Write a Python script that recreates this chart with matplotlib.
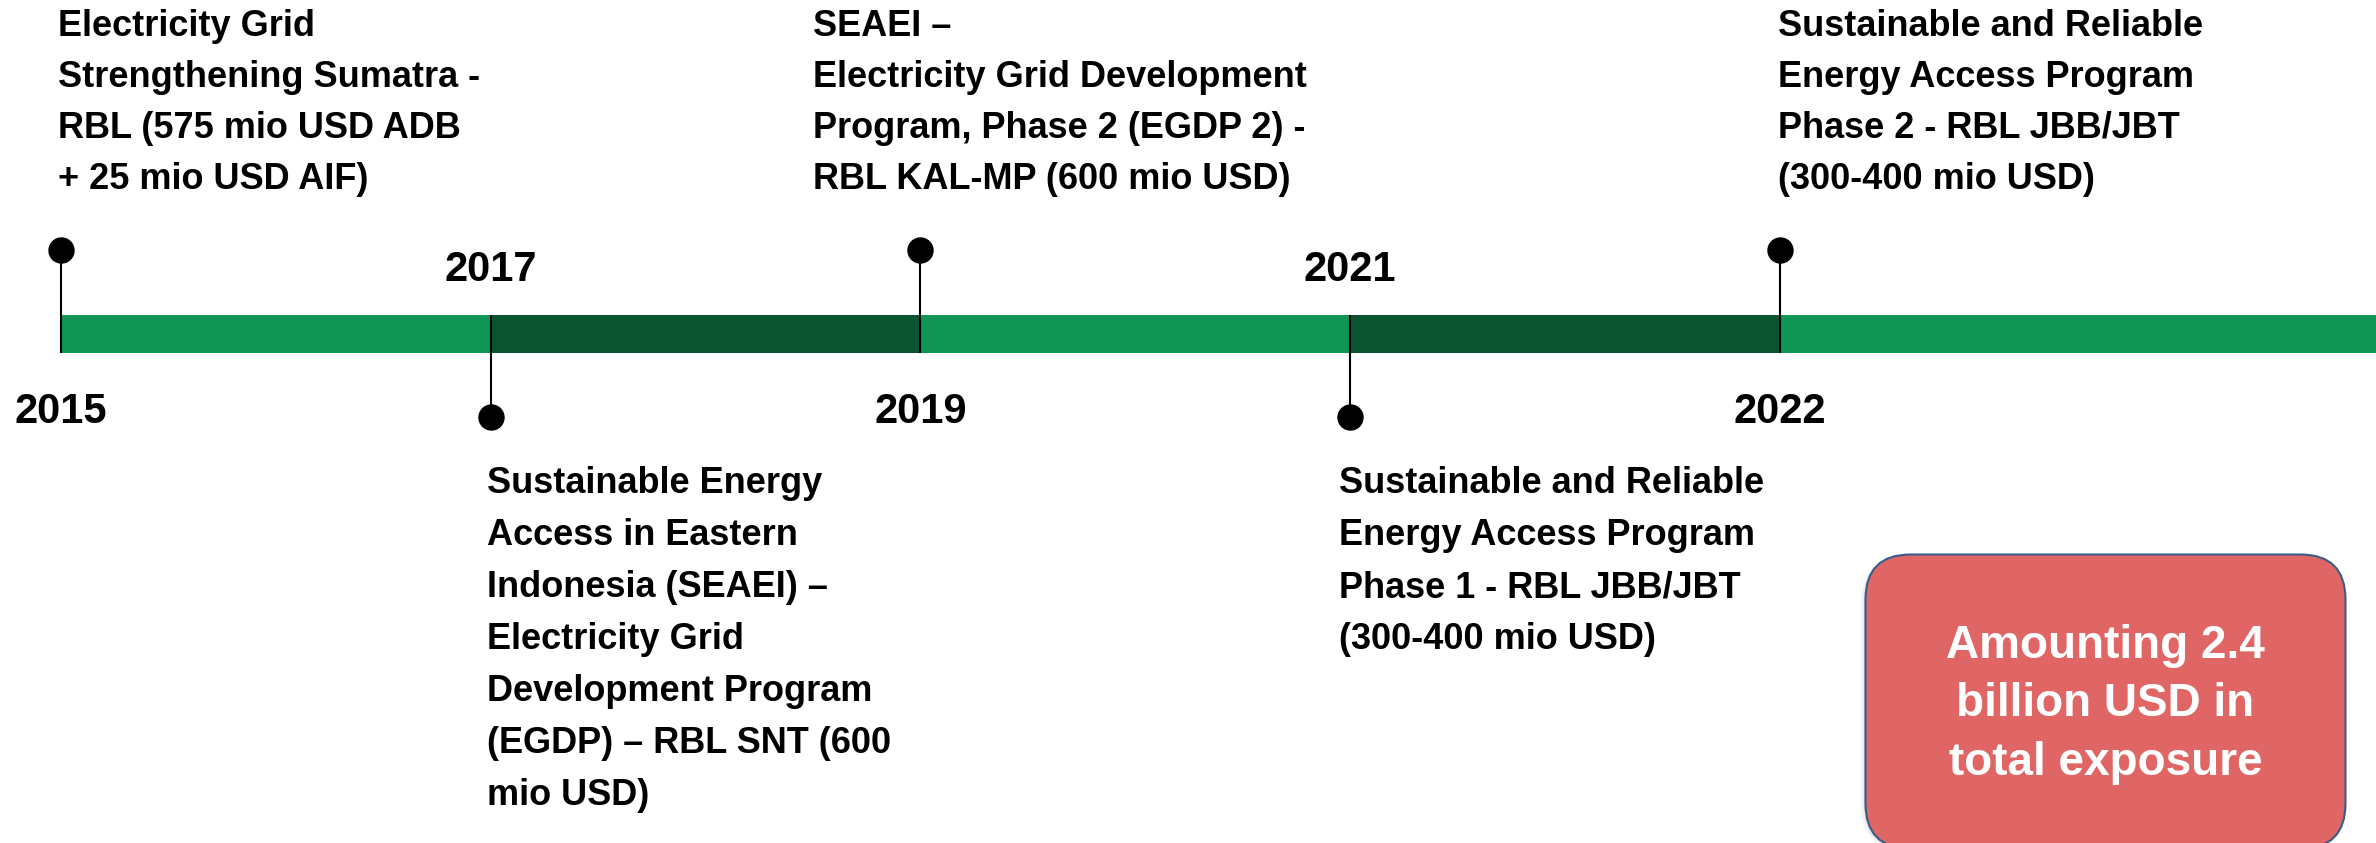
import numpy as np
import matplotlib
matplotlib.use("Agg")
import matplotlib.pyplot as plt
from matplotlib.patches import FancyBboxPatch
from matplotlib.transforms import offset_copy

plt.rcParams['font.family'] = ['Liberation Sans', 'DejaVu Sans']
plt.rcParams['font.weight'] = 'bold'

# data
years = [2015, 2017, 2019, 2021, 2022]
marker_above = [True, False, True, False, True]
descriptions = [
    ["Electricity Grid", "Strengthening Sumatra -", "RBL (575 mio USD ADB", "+ 25 mio USD AIF)"],
    ["Sustainable Energy", "Access in Eastern", "Indonesia (SEAEI) \u2013", "Electricity Grid",
     "Development Program", "(EGDP) \u2013 RBL SNT (600", "mio USD)"],
    ["SEAEI \u2013", "Electricity Grid Development", "Program, Phase 2 (EGDP 2) -", "RBL KAL-MP (600 mio USD)"],
    ["Sustainable and Reliable", "Energy Access Program", "Phase 1 - RBL JBB/JBT", "(300-400 mio USD)"],
    ["Sustainable and Reliable", "Energy Access Program", "Phase 2 - RBL JBB/JBT", "(300-400 mio USD)"],
]
total_lines = ["Amounting 2.4", "billion USD in", "total exposure"]

# layout (pixels)
W, H = 2376, 843
light_green = '#109654'
dark_green = '#0B5432'
desc_dx = [-3, -4, -107, -11, -2]   # text offset from marker, px

fig = plt.figure(figsize=(W / 100, H / 100), dpi=100)
ax = fig.add_axes([0, 0, 1, 1])
ax.axis('off')
pos = np.arange(len(years))
right = 5.387
ax.set_xlim(-0.142, right)
ax.set_ylim(H, 0)

# timeline bar
edges = list(pos) + [right]
for i in range(len(years)):
    ax.barh(334, edges[i + 1] - edges[i], left=edges[i], height=38,
            color=light_green if i % 2 == 0 else dark_green, zorder=1)

for i, yr in enumerate(years):
    x = pos[i]
    if marker_above[i]:
        ax.vlines(x, 250, 353, color='black', lw=1.5, zorder=2)
        ax.plot(x, 250, 'o', ms=18, color='black', zorder=3)
        ax.text(x, 423, str(yr), ha='center', va='baseline', fontsize=30, fontweight='bold')
        y0, dy = 36, 51
    else:
        ax.vlines(x, 315, 417, color='black', lw=1.5, zorder=2)
        ax.plot(x, 417, 'o', ms=18, color='black', zorder=3)
        ax.text(x, 281, str(yr), ha='center', va='baseline', fontsize=30, fontweight='bold')
        y0, dy = 493, 52
    tr = offset_copy(ax.transData, fig=fig, x=desc_dx[i], y=0, units='dots')
    for k, line in enumerate(descriptions[i]):
        ax.text(x, y0 + k * dy, line, transform=tr, ha='left', va='baseline',
                fontsize=26, fontweight='bold')

# total exposure box (runs slightly past the bottom edge)
bx, by, bw, bh = 1864, 553, 483, 297
bax = fig.add_axes([bx / W, (H - by - bh) / H, bw / W, bh / H])
bax.axis('off')
bax.set_xlim(0, bw)
bax.set_ylim(bh, 0)
for s, a in [(5, 0.06), (3, 0.08), (1.5, 0.1)]:
    bax.add_patch(FancyBboxPatch((1.5 - s, 1.5 + s * 0.5), bw - 3 + s, bh - 3,
                                 boxstyle='round,pad=0,rounding_size=45',
                                 fc='gray', ec='none', alpha=a, clip_on=False, zorder=1))
bax.add_patch(FancyBboxPatch((1.5, 1.5), bw - 3, bh - 3,
                             boxstyle='round,pad=0,rounding_size=45',
                             fc='#E06666', ec='#385D8A', lw=1.5, clip_on=False, zorder=2))
for k, line in enumerate(total_lines):
    bax.text(bw / 2, 105 + k * 58.5, line, ha='center', va='baseline',
             fontsize=33, fontweight='bold', color='white', zorder=3)

fig.savefig('out.png', dpi=100)
